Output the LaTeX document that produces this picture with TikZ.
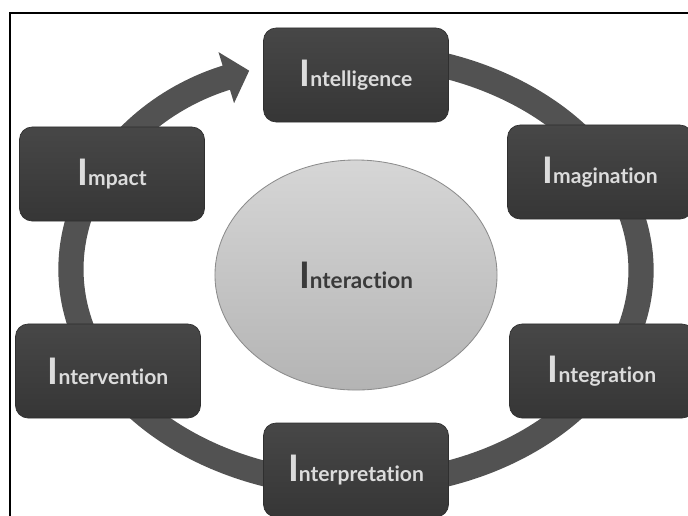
\documentclass[tikz,border=0pt]{standalone}
\usepackage{fontspec}
\setsansfont{Lato}[Ligatures=NoCommon]
\usetikzlibrary{arrows.meta,shapes.geometric}

\definecolor{ringgray}{HTML}{525252}
\definecolor{boxtop}{HTML}{474747}
\definecolor{boxbot}{HTML}{363636}
\definecolor{boxedge}{HTML}{2F2F2F}
\definecolor{boxtext}{HTML}{DCDCDC}
\definecolor{hubtop}{HTML}{D6D6D6}
\definecolor{hubbot}{HTML}{B4B4B4}
\definecolor{hubedge}{HTML}{8C8C8C}
\definecolor{hubtext}{HTML}{3A3A3A}

% big first letter, then the rest of the word
\newcommand{\capI}[2][15]{{\fontsize{26}{26}\selectfont I}{\fontsize{#1}{#1}\selectfont #2}}

\begin{document}
\begin{tikzpicture}[x=0.025cm,y=-0.025cm,
  stagebox/.style={draw=boxedge,line width=0.5pt,rounded corners=9pt,top color=boxtop,bottom color=boxbot,
    text=boxtext,font=\sffamily\bfseries,minimum width=4.625cm,minimum height=2.35cm,inner sep=0pt},
  hub/.style={ellipse,draw=hubedge,line width=0.6pt,top color=hubtop,bottom color=hubbot,
    text=hubtext,font=\sffamily\bfseries,minimum width=7.05cm,minimum height=5.75cm,inner sep=0pt},
  ring/.style={draw=ringgray,line width=0.63cm}]
\useasboundingbox (0,0) rectangle (688,515);
\clip (0,0) rectangle (688,515);

% frame
\draw[line width=2pt] (10,520) -- (10,13) -- (695,13);

% cycle behind the boxes
\coordinate (ringc) at (356,270);
\draw[ring,-{Triangle[width=1.3cm,length=0.6cm]}] (ringc) ++(-100:285 and 215)
  arc[start angle=-100,end angle=248,x radius=285,y radius=215];

\node[hub] (hub) at (356,275) {\capI[16]{nteraction}};

\foreach \nm/\pos/\word in {intelligence/{356,75}/ntelligence,
    imagination/{600,172}/magination,
    integration/{602,371}/ntegration,
    interpretation/{356,470}/nterpretation,
    intervention/{108,371}/ntervention,
    impact/{112,174}/mpact}
  {\node[stagebox] (\nm) at (\pos) {\capI{\word}};}
\end{tikzpicture}
\end{document}
